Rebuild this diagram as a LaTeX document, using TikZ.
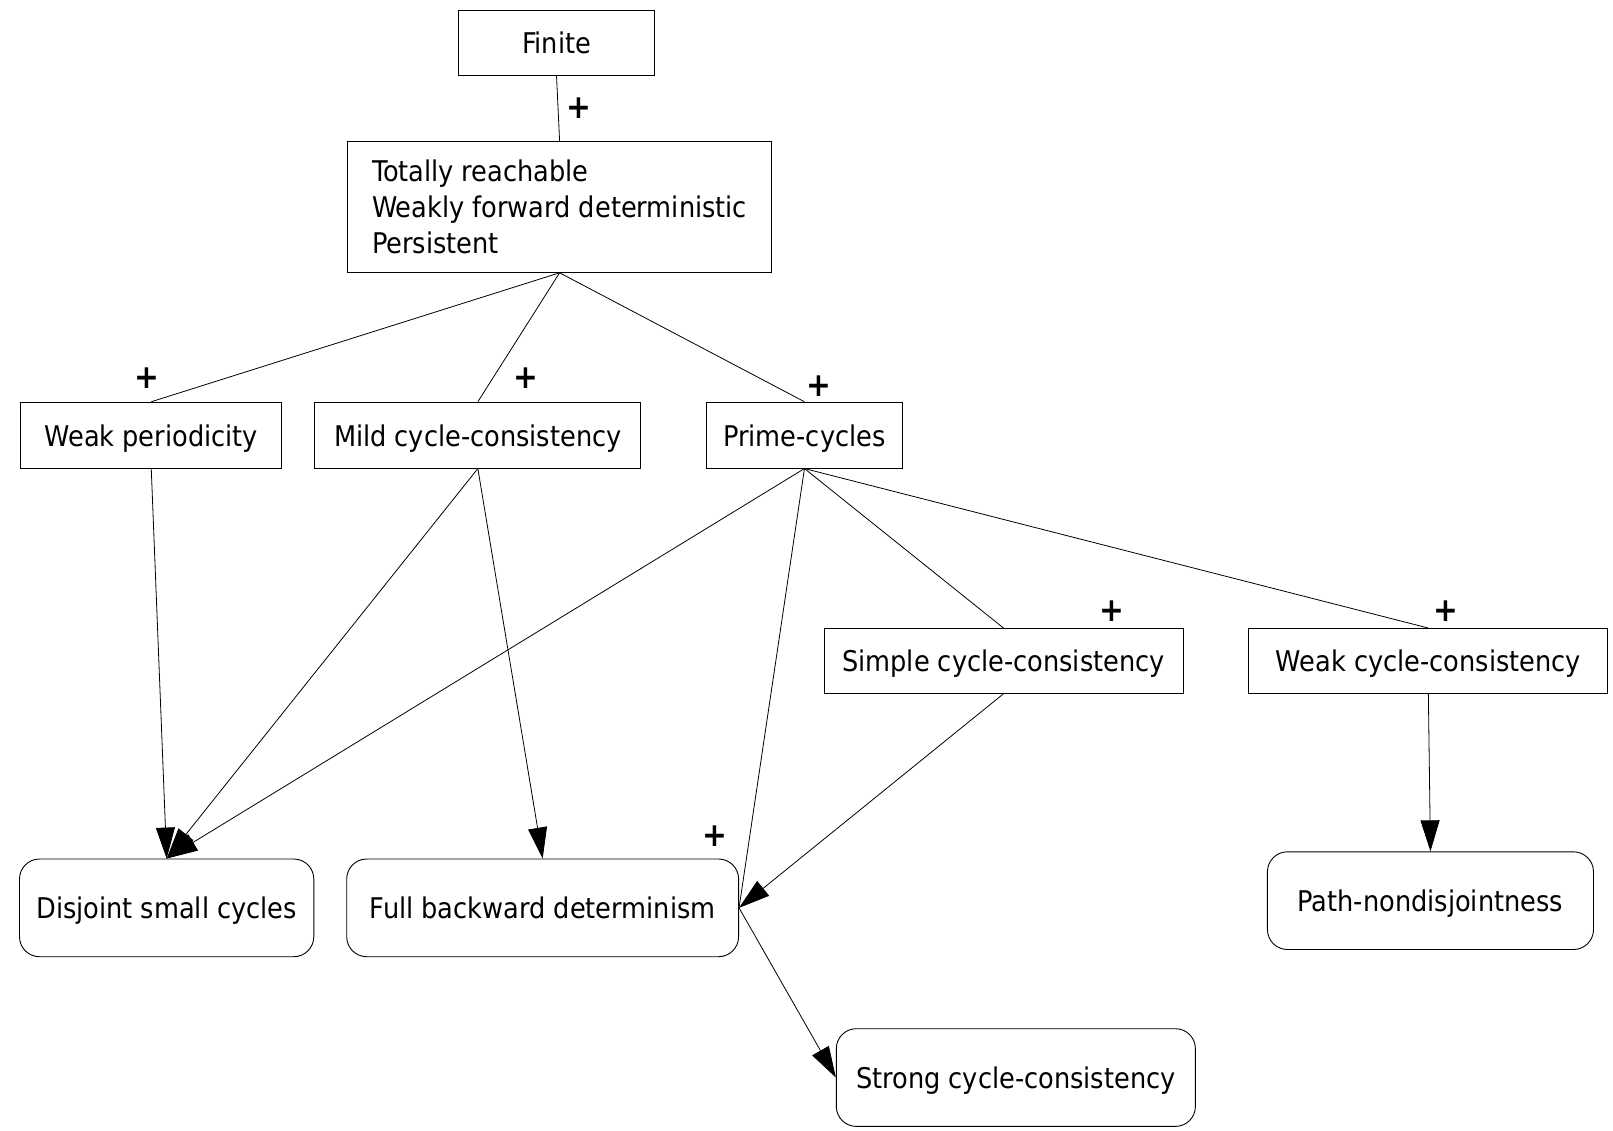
\documentclass[tikz,border=0pt]{standalone}
\usepackage{fontspec}
\setmainfont{DejaVu Sans Condensed}
\usetikzlibrary{arrows.meta}
\begin{document}
\begin{tikzpicture}[x=1pt,y=-1pt,
  every node/.style={font=\fontsize{28.5}{36}\selectfont, inner sep=0pt},
  sqbox/.style={draw, line width=0.9pt, rectangle, align=center},
  one/.style={text height=27pt, text depth=5pt},
  rbox/.style={draw, line width=0.9pt, rectangle, rounded corners=20pt, align=center, one},
  plain/.style={line width=0.8pt},
  arr/.style={line width=0.8pt, -{Triangle[length=31pt,width=19pt]}},
  plus/.style={font=\fontsize{33}{36}\selectfont\bfseries}]
\useasboundingbox (0,0) rectangle (1613,1131);
\fill[white] (0,0) rectangle (1613,1131);
\node[sqbox, one, minimum width=195.5pt, minimum height=64.8pt] (fin) at (556.5,42.7) {Finite};
\node[sqbox, minimum width=423.8pt, minimum height=130.7pt, align=left] (tr) at (559.6,207)
  {Totally reachable\\Weakly forward deterministic\\Persistent};
\node[sqbox, one, minimum width=261.3pt, minimum height=65.9pt] (wp) at (151.25,435.15) {Weak periodicity};
\node[sqbox, one, minimum width=326.1pt, minimum height=65.9pt] (mild) at (477.85,435.15) {Mild cycle-consistency};
\node[sqbox, one, minimum width=195.5pt, minimum height=65.9pt] (prime) at (804.45,435.15) {Prime-cycles};
\node[sqbox, one, minimum width=359pt, minimum height=64.8pt] (simple) at (1003.5,660.9) {Simple cycle-consistency};
\node[sqbox, one, minimum width=359.1pt, minimum height=64.8pt] (weakcc) at (1428.35,660.9) {Weak cycle-consistency};
\node[rbox, minimum width=294.3pt, minimum height=97.7pt] (dsc) at (166.65,907.85) {Disjoint small cycles};
\node[rbox, minimum width=391.9pt, minimum height=97.7pt] (fbd) at (542.65,907.85) {Full backward determinism};
\node[rbox, minimum width=326.1pt, minimum height=97.7pt] (path) at (1430.45,900.65) {Path-nondisjointness};
\node[rbox, minimum width=359.1pt, minimum height=97.7pt] (strong) at (1015.85,1077.55) {Strong cycle-consistency};

\node[plus] (p1) at (579.2,108) {+};
\node[plus] (p2) at (147.1,378.6) {+};
\node[plus] (p3) at (525.7,378.6) {+};
\node[plus] (p4) at (818.8,385.8) {+};
\node[plus] (p5) at (1112,611) {+};
\node[plus] (p6) at (1446.4,611) {+};
\node[plus] (p7) at (715,836.3) {+};

\draw[plain] (fin.south) -- (tr.north);
\draw[plain] (tr.south) -- (wp.north);
\draw[plain] (tr.south) -- (mild.north);
\draw[plain] (tr.south) -- (prime.north);
\draw[arr] (wp.south) -- (dsc.north);
\draw[arr] (mild.south) -- (dsc.north);
\draw[arr] (mild.south) -- (fbd.north);
\draw[arr] (prime.south) -- (dsc.north);
\draw[plain] (prime.south) -- (fbd.east);
\draw[plain] (prime.south) -- (simple.north);
\draw[plain] (prime.south) -- (weakcc.north);
\draw[arr] (simple.south) -- (fbd.east);
\draw[arr] (weakcc.south) -- (path.north);
\draw[arr] (fbd.east) -- (strong.west);
\end{tikzpicture}
\end{document}
